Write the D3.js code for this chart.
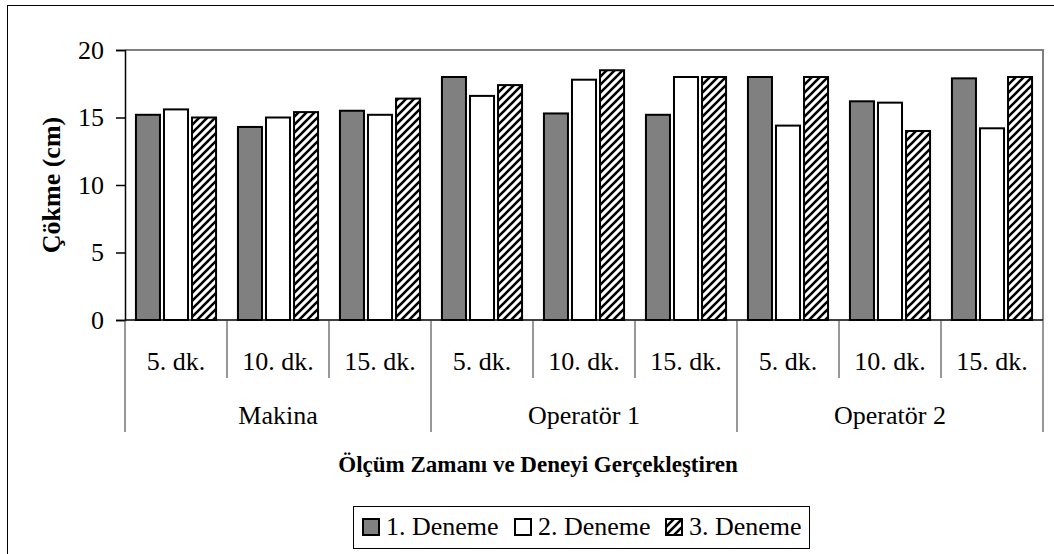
<!DOCTYPE html>
<html>
<head>
<meta charset="utf-8">
<script src="https://cdn.jsdelivr.net/npm/d3@7"></script>
<style>
  body { margin: 0; background: #fff; }
  text { font-family: "Liberation Serif", "Times New Roman", serif; fill: #000; }
</style>
</head>
<body>
<script>
var groups = ["Makina", "Operatör 1", "Operatör 2"];
var times = ["5. dk.", "10. dk.", "15. dk."];
var series = ["1. Deneme", "2. Deneme", "3. Deneme"];

// values per group, per time, per series
var makina    = [[15.2, 15.6, 15.0], [14.3, 15.0, 15.4], [15.5, 15.2, 16.4]];
var operator1 = [[18.0, 16.6, 17.4], [15.3, 17.8, 18.5], [15.2, 18.0, 18.0]];
var operator2 = [[18.0, 14.4, 18.0], [16.2, 16.1, 14.0], [17.9, 14.2, 18.0]];
var yTicks = [0, 5, 10, 15, 20];

var allValues = [makina, operator1, operator2];

var w = 1054;
var h = 554;
var pLeft = 125, pRight = 1043, pTop = 50, pBottom = 320;

var svg = d3.select('body')
            .append('svg')
            .attr('width', w)
            .attr('height', h);

var defs = svg.append('defs');
var pat = defs.append('pattern')
    .attr('id', 'hatch')
    .attr('patternUnits', 'userSpaceOnUse')
    .attr('width', 8)
    .attr('height', 8);
pat.append('rect').attr('width', 8).attr('height', 8).attr('fill', '#fff');
pat.append('path')
    .attr('d', 'M-2,2 L2,-2 M0,8 L8,0 M6,10 L10,6')
    .attr('stroke', '#000')
    .attr('stroke-width', 2.6);

var fills = ['#808080', '#ffffff', 'url(#hatch)'];

// outer chart border
svg.append('rect')
    .attr('x', 7.5).attr('y', 5.5)
    .attr('width', 1100).attr('height', 600)
    .attr('fill', 'none').attr('stroke', '#000').attr('stroke-width', 1);

// flat list of categories
var cats = [];
groups.forEach(function(g, gi) {
    times.forEach(function(t, ti) {
        cats.push({ group: g, gi: gi, time: t, vals: allValues[gi][ti] });
    });
});

var xScale = d3.scaleBand()
    .domain(d3.range(cats.length))
    .range([pLeft, pRight]);

var xGroup = d3.scaleBand()
    .domain(groups)
    .range([pLeft, pRight]);

var xInner = d3.scaleBand()
    .domain(d3.range(series.length))
    .range([0, xScale.bandwidth()])
    .paddingInner(0.143)
    .paddingOuter(0.39);

var yScale = d3.scaleLinear()
    .domain([0, 20])
    .range([pBottom, pTop]);

// plot area border (gray)
svg.append('path')
    .attr('d', 'M' + pLeft + ',' + yScale(20) + 'H' + pRight + 'V' + pBottom)
    .attr('fill', 'none')
    .attr('stroke', '#808080')
    .attr('stroke-width', 2);

// bars
var catG = svg.selectAll('g.cat')
    .data(cats)
    .enter()
    .append('g')
    .attr('class', 'cat')
    .attr('transform', function(d, i) { return 'translate(' + xScale(i) + ',0)'; });

catG.selectAll('rect')
    .data(function(d) { return d.vals; })
    .enter()
    .append('rect')
    .attr('x', function(d, i) { return xInner(i); })
    .attr('y', function(d) { return yScale(d); })
    .attr('width', xInner.bandwidth())
    .attr('height', function(d) { return pBottom - yScale(d); })
    .attr('fill', function(d, i) { return fills[i]; })
    .attr('stroke', '#000')
    .attr('stroke-width', 2);

// y axis
var yAxis = d3.axisLeft(yScale)
    .tickValues(yTicks)
    .tickSize(9)
    .tickPadding(12);

var yG = svg.append('g')
    .attr('transform', 'translate(' + pLeft + ',0)')
    .call(yAxis);
yG.select('.domain').attr('stroke', '#000').attr('stroke-width', 1.5);
yG.selectAll('.tick line').attr('stroke', '#000').attr('stroke-width', 1.5);
yG.selectAll('.tick text')
    .attr('font-family', 'Liberation Serif')
    .attr('font-size', '26px')
    .attr('fill', '#000');

// x axis line
svg.append('line')
    .attr('x1', pLeft).attr('x2', pRight)
    .attr('y1', pBottom).attr('y2', pBottom)
    .attr('stroke', '#000').attr('stroke-width', 1.5);

// category separators
var catEdges = d3.range(cats.length + 1).map(function(i) {
    return i < cats.length ? xScale(i) : pRight;
});
svg.selectAll('line.csep')
    .data(catEdges)
    .enter()
    .append('line')
    .attr('x1', function(d) { return d; })
    .attr('x2', function(d) { return d; })
    .attr('y1', pBottom)
    .attr('y2', function(d, i) { return i % 3 === 0 ? 432 : 378; })
    .attr('stroke', '#333')
    .attr('stroke-width', 1);

// category labels
svg.selectAll('text.clab')
    .data(cats)
    .enter()
    .append('text')
    .text(function(d) { return d.time; })
    .attr('text-anchor', 'middle')
    .attr('x', function(d, i) { return xScale(i) + xScale.bandwidth() / 2; })
    .attr('y', 370)
    .attr('font-size', '26px');

// group labels
svg.selectAll('text.glab')
    .data(groups)
    .enter()
    .append('text')
    .text(function(d) { return d; })
    .attr('text-anchor', 'middle')
    .attr('x', function(d) { return xGroup(d) + xGroup.bandwidth() / 2; })
    .attr('y', 424)
    .attr('font-size', '26px');

// axis titles
svg.append('text')
    .text('Ölçüm Zamanı ve Deneyi Gerçekleştiren')
    .attr('text-anchor', 'middle')
    .attr('x', 538)
    .attr('y', 472)
    .attr('font-size', '23px')
    .attr('font-weight', 'bold');

svg.append('text')
    .text('Çökme (cm)')
    .attr('text-anchor', 'middle')
    .attr('transform', 'translate(60,' + (pTop + pBottom) / 2 + ') rotate(-90)')
    .attr('font-size', '26px')
    .attr('font-weight', 'bold');

// legend
var legend = svg.append('g');
legend.append('rect')
    .attr('x', 353.5).attr('y', 506.5)
    .attr('width', 456).attr('height', 42)
    .attr('fill', '#fff').attr('stroke', '#000').attr('stroke-width', 1);

var legX = [362, 514, 665];
var items = legend.selectAll('g.item')
    .data(series)
    .enter()
    .append('g')
    .attr('transform', function(d, i) { return 'translate(' + legX[i] + ',0)'; });

items.append('rect')
    .attr('x', 1).attr('y', 519)
    .attr('width', 16).attr('height', 16)
    .attr('fill', function(d, i) { return fills[i]; })
    .attr('stroke', '#000').attr('stroke-width', 2);

items.append('text')
    .text(function(d) { return d; })
    .attr('x', 24)
    .attr('y', 535)
    .attr('font-size', '26px');
</script>
</body>
</html>
